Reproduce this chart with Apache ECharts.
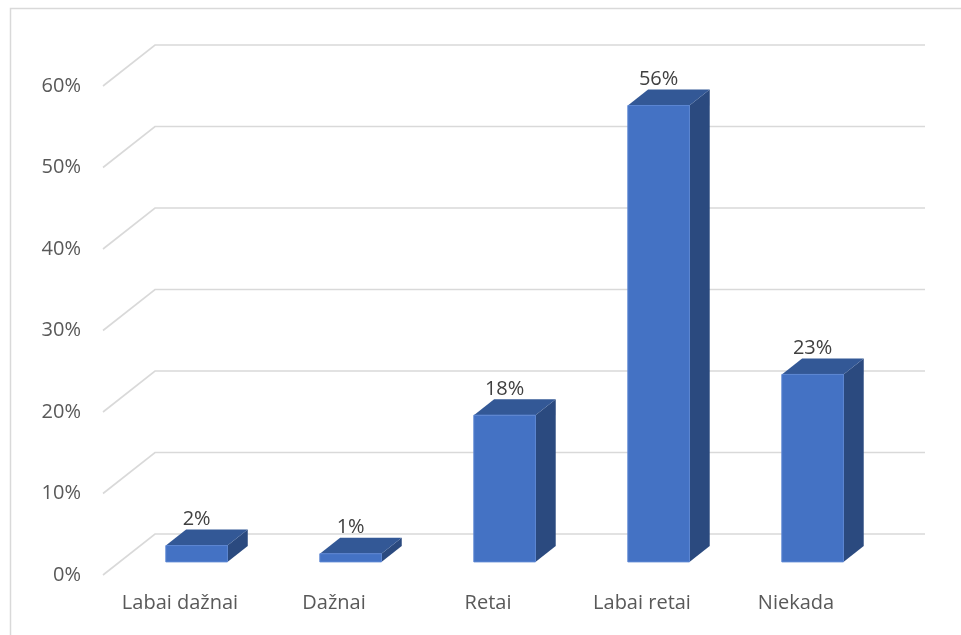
<!DOCTYPE html>
<html>
<head>
<meta charset="utf-8">
<script src="https://cdn.jsdelivr.net/npm/echarts@6/dist/echarts.min.js"></script>
<style>
html,body{margin:0;padding:0;background:#fff;}
#chart{width:961px;height:635px;}
</style>
</head>
<body>
<div id="chart"></div>
<script>
var categories = ['Labai dažnai', 'Dažnai', 'Retai', 'Labai retai', 'Niekada'];
var values = [2, 1, 18, 56, 23];
var tickValues = [0, 10, 20, 30, 40, 50, 60];

var FONT = "'Open Sans', 'Noto Sans', sans-serif";
var DX = 52, DY = -41;          // full floor depth vector
var F0 = 0.32, F1 = 0.71;       // bar depth range
var GRID_COLOR = '#D9D9D9';

var chart = echarts.init(document.getElementById('chart'), null, {renderer: 'canvas'});

function renderGrid(params, api) {
  var cs = params.coordSys;
  var y = api.coord([0, api.value(1)])[1];
  var x0 = cs.x, x1 = cs.x + cs.width;
  return {
    type: 'polyline',
    shape: {points: [[x0, y], [x0 + DX, y + DY], [x1 + DX, y + DY]]},
    style: {stroke: GRID_COLOR, lineWidth: 1.6, fill: null}
  };
}

function renderBar(params, api) {
  var ci = api.value(0), v = api.value(1);
  var base = api.coord([ci, 0]);
  var top = api.coord([ci, v]);
  var bw = api.size([1, 0])[0] * 0.4;
  var xL = base[0] + DX * F0 - bw / 2, xR = xL + bw;
  var yB = base[1] + DY * F0, yT = top[1] + DY * F0;
  var ddx = DX * (F1 - F0), ddy = DY * (F1 - F0);
  return {
    type: 'group',
    children: [
      {type: 'polygon', shape: {points: [[xR, yT], [xR + ddx, yT + ddy], [xR + ddx, yB + ddy], [xR, yB]]},
        style: {fill: '#2B4A7F'}},
      {type: 'polygon', shape: {points: [[xL, yT], [xL + ddx, yT + ddy], [xR + ddx, yT + ddy], [xR, yT]]},
        style: {fill: '#335896'}},
      {type: 'rect', shape: {x: xL, y: yT, width: bw, height: yB - yT},
        style: {fill: '#4472C4', stroke: '#5B85D2', lineWidth: 1}},
      {type: 'text', x: (xL + xR) / 2, y: yT + ddy - 10,
        style: {text: v + '%', fill: '#404040', font: '20px ' + FONT, align: 'center', verticalAlign: 'middle'}}
    ]
  };
}

chart.setOption({
  animation: false,
  backgroundColor: '#fff',
  graphic: [
    {type: 'polyline', shape: {points: [[10.5, 640], [10.5, 8.5], [970, 8.5]]},
      style: {stroke: GRID_COLOR, lineWidth: 1.5, fill: null}, z: 0}
  ],
  grid: {left: 103, right: 88, top: 86, bottom: 60, outerBoundsMode: 'none', containLabel: false},
  xAxis: {
    type: 'category',
    data: categories,
    axisLine: {show: false},
    axisTick: {show: false},
    splitLine: {show: false},
    axisLabel: {color: '#595959', fontSize: 20, fontFamily: FONT, margin: 18}
  },
  yAxis: {
    type: 'value',
    min: 0, max: 60, interval: 10,
    axisLine: {show: false},
    axisTick: {show: false},
    splitLine: {show: false},
    axisLabel: {color: '#595959', fontSize: 20, fontFamily: FONT, margin: 22, formatter: '{value}%'}
  },
  series: [
    {type: 'custom', renderItem: renderGrid, data: tickValues.map(function (t) { return [0, t]; }), z: 1, silent: true},
    {type: 'custom', renderItem: renderBar, data: values.map(function (v, i) { return [i, v]; }), z: 2}
  ]
});
</script>
</body>
</html>
